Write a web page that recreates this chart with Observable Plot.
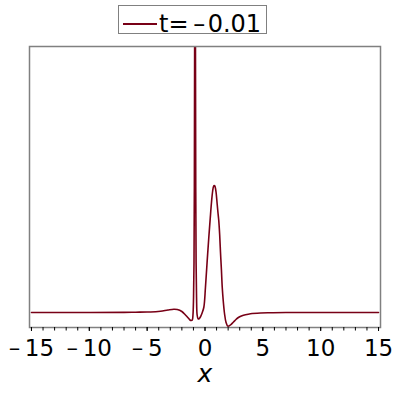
<!DOCTYPE html>
<html>
<head>
<meta charset="utf-8">
<script src="https://cdn.jsdelivr.net/npm/d3@7"></script>
<script src="https://cdn.jsdelivr.net/npm/@observablehq/plot@0.6"></script>
<style>
  body { margin: 0; background: #fff; }
  #wrap { position: relative; width: 400px; height: 400px; font-family: "DejaVu Sans", sans-serif; }
  #wrap svg { display: block; position: absolute; left: 0; top: 0; }
  #legend { position: absolute; left: 118px; top: 5px; width: 149px; height: 29px; box-sizing: border-box;
            border: 1.5px solid #808080; background: #fff; z-index: 2; }
  #legend .sw { position: absolute; left: 4px; top: 16.5px; width: 34px; height: 2px; background: #780016; }
  #legend .lab { position: absolute; left: 40px; top: 6px; font-size: 24px; line-height: 1; color: #000; white-space: nowrap; }
</style>
</head>
<body>
<div id="wrap"><div id="legend"><span class="sw"></span><span class="lab" id="leglab"></span></div></div>
<script>
const seriesName = "t=\u2009–\u200a0.01";
const xs = [-15, -10, -7, -6, -5, -4.7, -3.85, -3.2, -2.7, -2.4, -2.0, -1.69, -1.45, -1.3, -1.19, -1.1, -1.04, -0.99, -0.95, -0.92, -0.89, -0.86, -0.83, -0.80, -0.77, -0.73, -0.68, -0.6, -0.54, -0.4, -0.25, -0.1, 0.04, 0.18, 0.33, 0.45, 0.56, 0.66, 0.74, 0.8, 0.85, 0.9, 0.96, 1.05, 1.12, 1.19, 1.27, 1.34, 1.42, 1.49, 1.58, 1.69, 1.82, 1.97, 2.1, 2.2, 2.46, 2.7, 2.92, 3.2, 3.5, 3.93, 4.8, 5.7, 7, 10, 15];
const ys = [0, 0, 0.005, 0.01, 0.02, 0.02, 0.05, 0.1, 0.13, 0.12, 0.04, -0.1, -0.22, -0.3, -0.32, -0.3, -0.1, 0.6, 2, 5, 12, 30, 12, 5, 2, 0.6, -0.1, -0.25, -0.26, -0.18, -0.02, 0.21, 1.01, 2.0, 3.01, 3.75, 4.4, 4.85, 5.05, 5.08, 5.06, 4.98, 4.8, 4.35, 4.0, 3.68, 3.1, 2.4, 1.7, 1.01, 0.45, -0.05, -0.4, -0.55, -0.53, -0.5, -0.38, -0.27, -0.19, -0.13, -0.09, -0.05, -0.02, -0.01, 0, 0, 0];
const majorTicks = [-15, -10, -5, 0, 5, 10, 15];
const minorTicks = d3.range(-15, 16, 1);
const xLabel = "x";

document.getElementById("leglab").textContent = seriesName;
const data = xs.map((x, i) => ({x, y: ys[i]}));
const fmt = d => d < 0 ? "–\u2009" + Math.abs(d) : String(d);

const chart = Plot.plot({
  width: 400,
  height: 400,
  marginLeft: 29,
  marginRight: 20,
  marginTop: 46,
  marginBottom: 73,
  style: {fontFamily: "DejaVu Sans", background: "transparent", color: "#000"},
  x: {domain: [-15.17, 15.17]},
  y: {domain: [-0.6, 10.64], axis: null},
  marks: [
    Plot.line(data, {x: "x", y: "y", stroke: "#780016", strokeWidth: 1.6, clip: true, curve: "catmull-rom"}),
    Plot.frame({stroke: "#808080", strokeWidth: 1.5}),
    Plot.axisX(minorTicks, {tickSize: 3.5, tickFormat: () => "", label: null, strokeWidth: 1}),
    Plot.axisX(majorTicks, {tickSize: 4, tickPadding: 8, tickFormat: fmt, fontSize: 23, label: null, strokeWidth: 1}),
    Plot.text([xLabel], {text: d => d, frameAnchor: "bottom", dy: 54, fontSize: 25, fontStyle: "italic", fill: "#000"})
  ]
});
document.getElementById("wrap").appendChild(chart);
</script>
</body>
</html>
